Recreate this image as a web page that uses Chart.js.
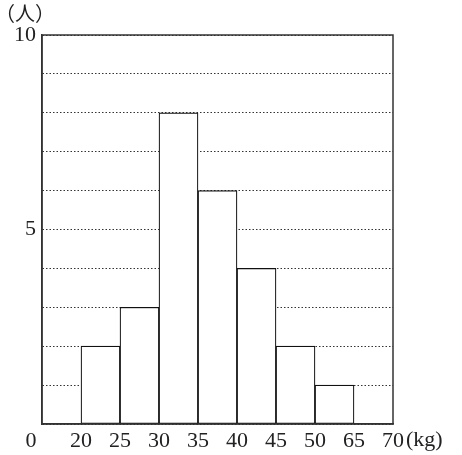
<!doctype html>
<html lang="ja">
  <head>
    <meta charset="utf-8" />
    <title>Histogram</title>
    <style>
      html, body { margin: 0; padding: 0; background: #fff; }
      .chartBox { width: 462px; height: 455px; }
    </style>
  </head>
  <body>
    <div class="chartBox">
      <canvas id="myChart"></canvas>
    </div>
    <script src="https://cdn.jsdelivr.net/npm/chart.js/dist/chart.umd.min.js"></script>
    <script>
      // boundary labels (bins are evenly spaced on the drawing)
      const xTickLabels = ["0", "20", "25", "30", "35", "40", "45", "50", "65", "70"];
      // bar centres, in bin index units
      const binCenters = [1.5, 2.5, 3.5, 4.5, 5.5, 6.5, 7.5];
      const counts = [2, 3, 8, 6, 4, 2, 1];
      const yTickLabels = { 5: "5", 10: "10" };

      const numFont = { family: "'Liberation Serif', 'DejaVu Serif', serif", size: 22 };

      // outer frame + unit labels
      const frame = {
        id: "frame",
        afterDraw(chart) {
          const { ctx, chartArea: { top, bottom, left, right }, scales: { x } } = chart;
          ctx.save();
          ctx.lineWidth = 1.5;
          ctx.strokeStyle = "#333";
          ctx.strokeRect(left, top, right - left, bottom - top);

          ctx.fillStyle = "#222";
          ctx.textBaseline = "middle";
          ctx.textAlign = "left";
          ctx.font = "20px 'Noto Sans CJK JP'";
          ctx.fillText("（人）", -5, 13);
          ctx.font = "22px 'Liberation Serif', serif";
          ctx.fillText("(kg)", x.getPixelForValue(9) + 13, bottom + 16);
          ctx.restore();
        },
      };

      const config = {
        type: "bar",
        data: {
          datasets: [
            {
              data: binCenters.map((c, i) => ({ x: c, y: counts[i] })),
              backgroundColor: "#fff",
              borderColor: "#111",
              borderWidth: 1.2,
              borderSkipped: false,
              barPercentage: 1,
              categoryPercentage: 1,
            },
          ],
        },
        options: {
          responsive: true,
          maintainAspectRatio: false,
          animation: false,
          layout: { padding: { top: 35, right: 69, left: 0, bottom: 0 } },
          scales: {
            x: {
              type: "linear",
              offset: false,
              min: 0,
              max: 9,
              afterFit: (scale) => { scale.height = 31; },
              ticks: {
                stepSize: 1,
                autoSkip: false,
                maxRotation: 0,
                padding: 4,
                color: "#222",
                font: numFont,
                // the origin label sits a little left of the axis
                callback: (v, i) => (i === 0 ? xTickLabels[i] + "\u2002\u2002" : xTickLabels[i]),
              },
              grid: { display: false, drawTicks: false },
              border: { display: true, color: "#333", width: 1.5 },
            },
            y: {
              min: 0,
              max: 10,
              afterFit: (scale) => { scale.width = 42; },
              ticks: {
                stepSize: 1,
                autoSkip: false,
                padding: 6,
                color: "#222",
                font: numFont,
                callback: (v) => yTickLabels[v] || "",
              },
              grid: { color: "#333", lineWidth: 1, drawTicks: false },
              border: { display: true, color: "#333", width: 1.5, dash: [1.5, 2] },
            },
          },
          plugins: {
            legend: { display: false },
            tooltip: { enabled: false },
          },
        },
        plugins: [frame],
      };

      const myChart = new Chart(document.getElementById("myChart"), config);
    </script>
  </body>
</html>
